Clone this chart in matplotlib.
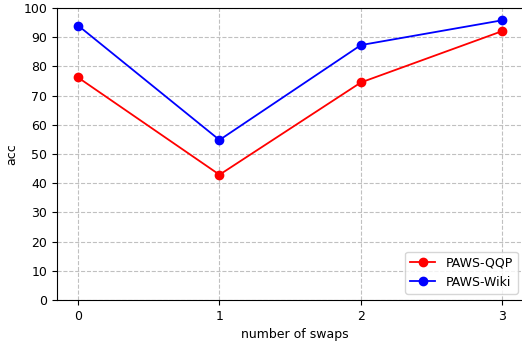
import numpy as np
import matplotlib
matplotlib.use('Agg')
import matplotlib.pyplot as plt

swaps = [0, 1, 2, 3]
qqp = [76.2, 42.9, 74.5, 92.1]
wiki = [94.0, 54.8, 87.3, 95.8]

plt.rcParams['font.size'] = 9

fig = plt.figure(figsize=(5.22, 3.42), dpi=100)
# right spine falls outside the picture, as in the reference
ax = fig.add_axes([57 / 522, 42 / 342, 475 / 522, 292 / 342])
ax.spines['right'].set_visible(False)

ax.plot(swaps, qqp, 'o-', color='red', label='PAWS-QQP', lw=1.3, ms=6)
ax.plot(swaps, wiki, 'o-', color='blue', label='PAWS-Wiki', lw=1.3, ms=6)

ax.set_ylim(0, 100)
ax.set_yticks(np.arange(0, 101, 10))
ax.set_xticks(swaps)
ax.set_xlim(-0.149, 3.21)
ax.grid(True, linestyle='--', color='#c0c0c0')
ax.set_xlabel('number of swaps')
ax.set_ylabel('acc')
ax.legend(loc='lower right', bbox_to_anchor=(0.983, 0.0))

fig.savefig('out.png', dpi=100)
